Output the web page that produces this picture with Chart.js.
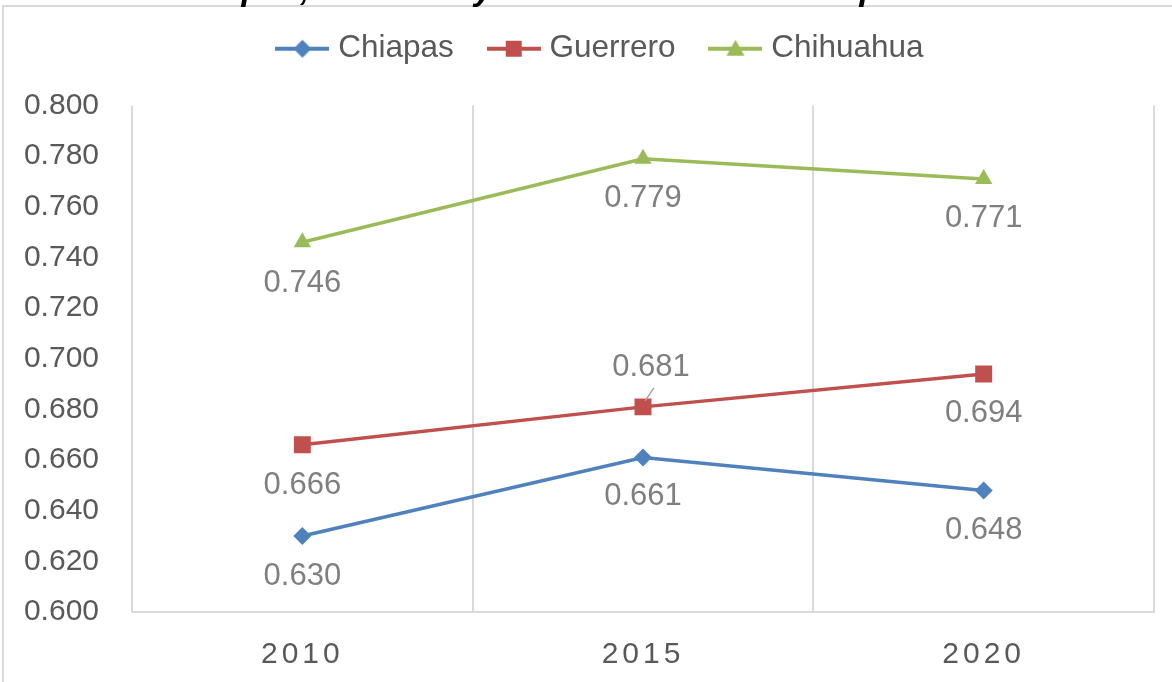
<!DOCTYPE html>
<html>
<head>
<meta charset="utf-8">
<script src="https://cdn.jsdelivr.net/npm/chart.js@4"></script>
<style>
  html, body { margin: 0; padding: 0; background: #fff; }
  #wrap { width: 1172px; height: 682px; }
</style>
</head>
<body>
<div id="wrap"><canvas id="chart1" width="1172" height="682"></canvas></div>
<script>
const years = ['2010', '2015', '2020'];
const chiapas = [0.630, 0.661, 0.648];
const guerrero = [0.666, 0.681, 0.694];
const chihuahua = [0.746, 0.779, 0.771];
const yTicks = [0.600, 0.620, 0.640, 0.660, 0.680, 0.700, 0.720, 0.740, 0.760, 0.780, 0.800];
const title = 'Chiapas, Guerrero y Chihuahua durante el periodo 2010-2020';

const FONT = '"Liberation Sans", Arial, sans-serif';

// legend symbol: short line with the marker in the middle
function legendIcon (color, style) {
  const c = document.createElement('canvas');
  c.width = 54; c.height = 22;
  const g = c.getContext('2d');
  g.strokeStyle = color;
  g.lineWidth = 4;
  g.beginPath(); g.moveTo(0, 11); g.lineTo(54, 11); g.stroke();
  g.fillStyle = color;
  g.beginPath();
  if (style === 'diamond') {
    g.moveTo(27, 2); g.lineTo(36, 11); g.lineTo(27, 20); g.lineTo(18, 11);
  } else if (style === 'square') {
    g.rect(19, 3, 16, 16);
  } else {
    g.moveTo(27, 2); g.lineTo(36, 18); g.lineTo(18, 18);
  }
  g.closePath(); g.fill();
  return c;
}

const frame = {
  id: 'frame',
  afterLayout (chart) {
    // legend sits a little right of centre in the original
    chart.legend.left += 26;
    chart.legend.right += 26;
  },
  beforeDraw (chart) {
    const ctx = chart.ctx;
    ctx.save();
    ctx.strokeStyle = '#d9d9d9';
    ctx.lineWidth = 2;
    ctx.beginPath();
    ctx.moveTo(3, 682); ctx.lineTo(3, 6); ctx.lineTo(1172, 6);
    ctx.stroke();
    // title is cut off by the top edge, only its lower part shows
    ctx.fillStyle = '#000';
    ctx.font = 'italic bold 34px ' + FONT;
    ctx.textAlign = 'center';
    ctx.textBaseline = 'alphabetic';
    ctx.fillText(title, 662, 0);
    ctx.restore();
  }
};

// value labels, placed like the original (mostly under the point)
const labelShift = [
  [[0, 40], [0, 39], [0, 40]],
  [[0, 41], [8, -39], [0, 40]],
  [[0, 41], [0, 40], [0, 40]]
];
const valueLabels = {
  id: 'valueLabels',
  afterDatasetsDraw (chart) {
    const ctx = chart.ctx;
    ctx.save();
    ctx.font = '31px ' + FONT;
    ctx.fillStyle = '#7f7f7f';
    ctx.textAlign = 'center';
    ctx.textBaseline = 'middle';
    chart.data.datasets.forEach((ds, i) => {
      chart.getDatasetMeta(i).data.forEach((pt, j) => {
        const [dx, dy] = labelShift[i][j];
        ctx.fillText(ds.data[j].toFixed(3), pt.x + dx, pt.y + dy);
        if (dy < 0) {
          ctx.strokeStyle = '#a6a6a6';
          ctx.lineWidth = 1.5;
          ctx.beginPath();
          ctx.moveTo(pt.x + 2, pt.y - 6);
          ctx.lineTo(pt.x + 11, pt.y - 19);
          ctx.stroke();
        }
      });
    });
    ctx.restore();
  }
};

function series (label, data, color, style, icon, r) {
  return {
    label: label,
    data: data,
    borderColor: color,
    backgroundColor: color,
    borderWidth: 3.5,
    pointStyle: style,
    pointRadius: r,
    pointHoverRadius: r,
    pointBorderWidth: 0,
    pointBackgroundColor: color,
    legendIcon: icon
  };
}

new Chart(document.getElementById('chart1').getContext('2d'), {
  type: 'line',
  data: {
    labels: years,
    datasets: [
      series('Chiapas', chiapas, '#4f81bd', 'rectRot', legendIcon('#4f81bd', 'diamond'), 9),
      series('Guerrero', guerrero, '#c0504d', 'rect', legendIcon('#c0504d', 'square'), 12),
      series('Chihuahua', chihuahua, '#9bbb59', 'triangle', legendIcon('#9bbb59', 'triangle'), 10)
    ]
  },
  options: {
    animation: false,
    responsive: false,
    layout: { padding: { top: -7, right: 18, left: 0, bottom: 0 } },
    elements: { line: { tension: 0 } },
    plugins: {
      tooltip: { enabled: false },
      // empty subtitle used only as a spacer between legend and plot
      subtitle: {
        display: true,
        text: '',
        weight: 500,
        font: { size: 1, lineHeight: 1 },
        padding: { top: 0, bottom: 30 }
      },
      legend: {
        position: 'top',
        labels: {
          usePointStyle: true,
          pointStyleWidth: 40,
          padding: 40,
          color: '#595959',
          font: { family: FONT, size: 31.5 },
          generateLabels (chart) {
            return chart.data.datasets.map((ds, i) => ({
              text: ds.label,
              pointStyle: ds.legendIcon,
              fontColor: '#595959',
              strokeStyle: ds.borderColor,
              fillStyle: ds.borderColor,
              lineWidth: 0,
              datasetIndex: i
            }));
          }
        }
      }
    },
    scales: {
      x: {
        offset: true,
        grid: { display: true, offset: true, color: '#d9d9d9', lineWidth: 2, drawTicks: false },
        border: { display: true, color: '#d9d9d9', width: 2 },
        ticks: { color: '#595959', padding: 25, font: { family: FONT, size: 30 } },
        afterFit (s) {
          s.height = 70;
          if (!s._spaced) {
            const draw = s.drawLabels.bind(s);
            s.drawLabels = (area) => {
              s.ctx.letterSpacing = '4px';
              draw(area);
              s.ctx.letterSpacing = '0px';
            };
            s._spaced = true;
          }
        }
      },
      y: {
        min: 0.6,
        max: 0.8,
        grid: { display: false, drawTicks: false },
        border: { display: false },
        afterBuildTicks (s) { s.ticks = yTicks.map(v => ({ value: v })); },
        ticks: {
          color: '#595959',
          padding: 33,
          font: { family: FONT, size: 30 },
          callback: (v) => Number(v).toFixed(3)
        },
        afterFit (s) { s.width = 132; }
      }
    }
  },
  plugins: [frame, valueLabels]
});
</script>
</body>
</html>
